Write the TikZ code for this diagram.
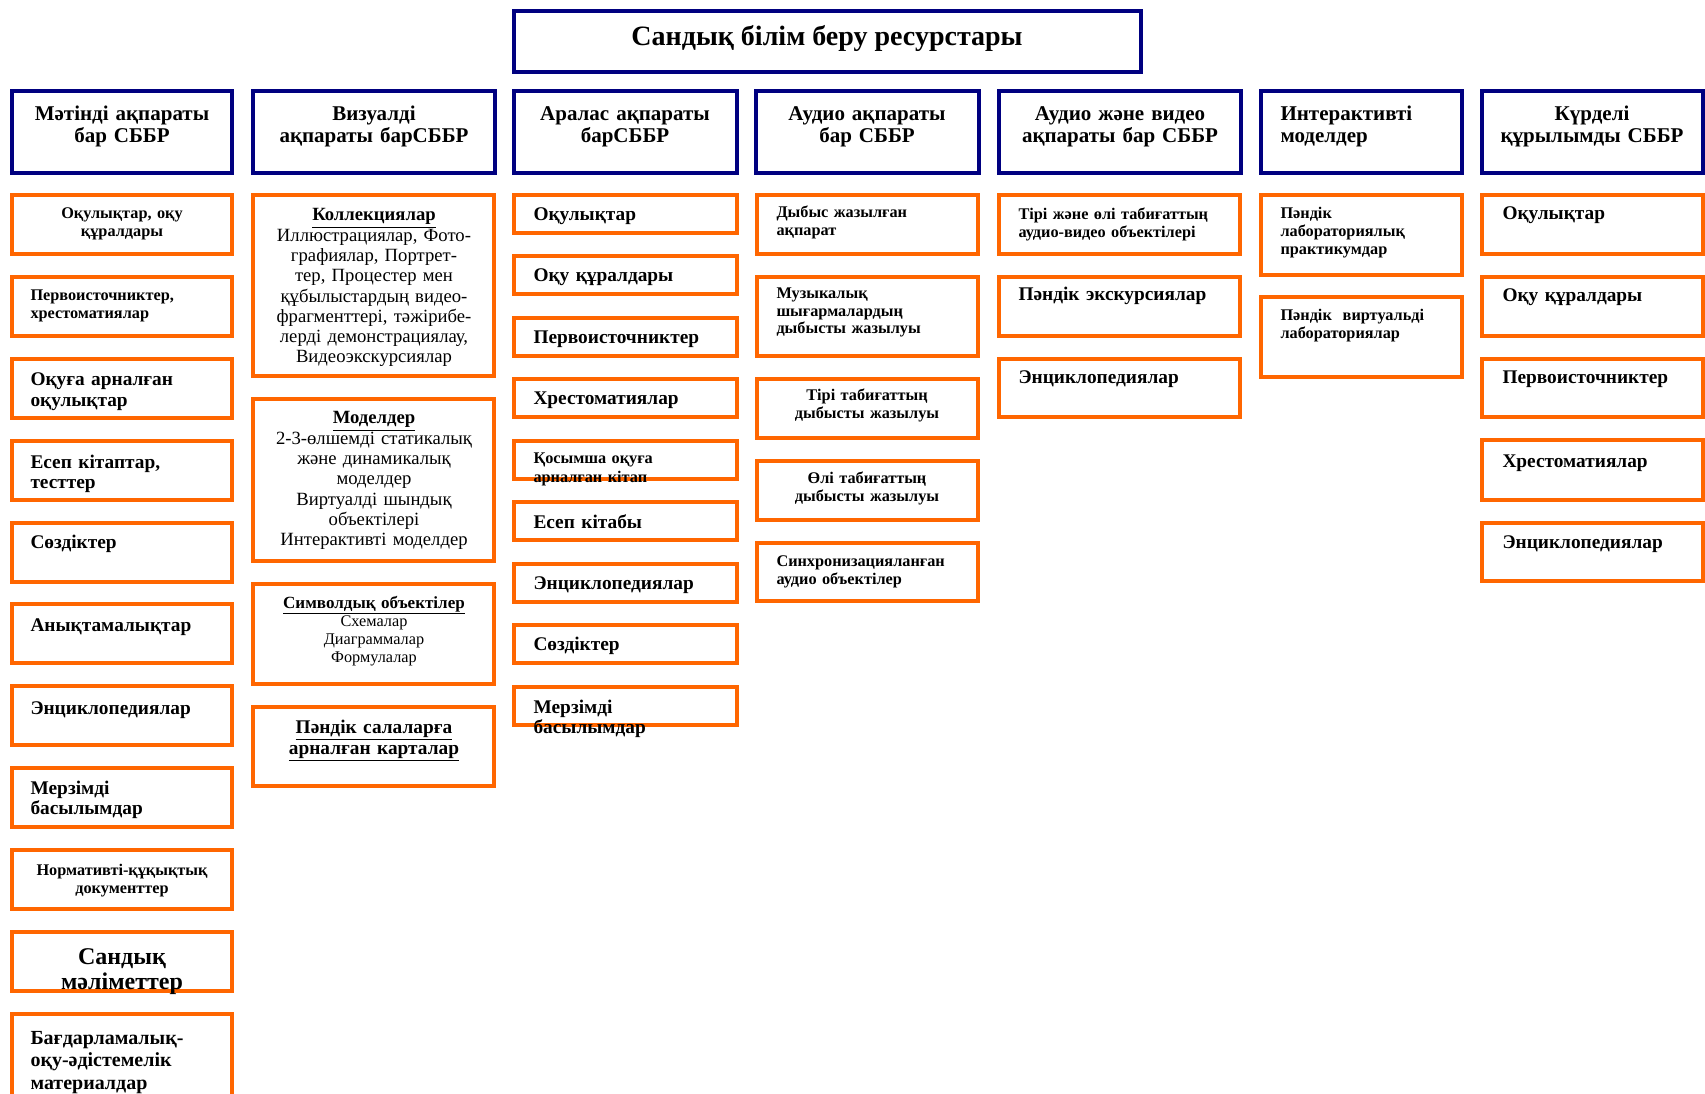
\documentclass[tikz,border=0pt]{standalone}
\usepackage{fontspec}
\setmainfont{Liberation Serif}

\definecolor{navyline}{RGB}{0,0,128}
\definecolor{orangeline}{RGB}{255,102,0}

\tikzset{every picture/.style={line width=0.75pt}}
\tikzset{
  headbox/.style={draw=navyline, line width=3.2pt},
  itembox/.style={draw=orangeline, line width=2.6pt},
  titletxt/.style={inner sep=0pt, font=\bfseries\fontsize{21}{25}\selectfont},
  headtxt/.style={inner sep=0pt, text width=210pt, font=\bfseries\fontsize{15.75}{16.5}\selectfont},
  bigtxt/.style={inner sep=0pt, text width=200pt, font=\bfseries\fontsize{14.5}{15.2}\selectfont},
  smalltxt/.style={inner sep=0pt, text width=200pt, font=\bfseries\fontsize{12.2}{13.5}\selectfont},
  plaintxt/.style={inner sep=0pt, text width=200pt, font=\fontsize{14}{15.2}\selectfont},
}

\begin{document}
\begin{tikzpicture}[x=0.75pt,y=0.75pt,yscale=-1,xscale=1]
	\path[use as bounding box] (0,0) rectangle (1705,1094);
	
	%Shape: Rectangle [title]
	\draw [headbox] (514,11) -- (1141,11) -- (1141,72) -- (514,72) -- cycle ;
	%Shape: Rectangle [headers]
	\draw [headbox] (12,91) -- (232,91) -- (232,173) -- (12,173) -- cycle ;
	\draw [headbox] (253,91) -- (495,91) -- (495,173) -- (253,173) -- cycle ;
	\draw [headbox] (514,91) -- (737,91) -- (737,173) -- (514,173) -- cycle ;
	\draw [headbox] (756,91) -- (979,91) -- (979,173) -- (756,173) -- cycle ;
	\draw [headbox] (999,91) -- (1241,91) -- (1241,173) -- (999,173) -- cycle ;
	\draw [headbox] (1261,91) -- (1462,91) -- (1462,173) -- (1261,173) -- cycle ;
	\draw [headbox] (1482,91) -- (1703,91) -- (1703,173) -- (1482,173) -- cycle ;
	
	%Shape: Rectangle [column 1]
	\draw [itembox] (12,195) -- (232,195) -- (232,254) -- (12,254) -- cycle ;
	\draw [itembox] (12,277) -- (232,277) -- (232,336) -- (12,336) -- cycle ;
	\draw [itembox] (12,359) -- (232,359) -- (232,418) -- (12,418) -- cycle ;
	\draw [itembox] (12,441) -- (232,441) -- (232,500) -- (12,500) -- cycle ;
	\draw [itembox] (12,523) -- (232,523) -- (232,582) -- (12,582) -- cycle ;
	\draw [itembox] (12,604) -- (232,604) -- (232,663) -- (12,663) -- cycle ;
	\draw [itembox] (12,686) -- (232,686) -- (232,745) -- (12,745) -- cycle ;
	\draw [itembox] (12,768) -- (232,768) -- (232,827) -- (12,827) -- cycle ;
	\draw [itembox] (12,850) -- (232,850) -- (232,909) -- (12,909) -- cycle ;
	\draw [itembox] (12,932) -- (232,932) -- (232,991) -- (12,991) -- cycle ;
	\draw [itembox] (12,1014) -- (232,1014) -- (232,1100) -- (12,1100) -- cycle ;
	
	%Shape: Rectangle [column 2]
	\draw [itembox] (253,195) -- (494,195) -- (494,376) -- (253,376) -- cycle ;
	\draw [itembox] (253,399) -- (494,399) -- (494,561) -- (253,561) -- cycle ;
	\draw [itembox] (253,584) -- (494,584) -- (494,684) -- (253,684) -- cycle ;
	\draw [itembox] (253,707) -- (494,707) -- (494,786) -- (253,786) -- cycle ;
	
	%Shape: Rectangle [column 3]
	\draw [itembox] (514,195) -- (737,195) -- (737,233) -- (514,233) -- cycle ;
	\draw [itembox] (514,256) -- (737,256) -- (737,294) -- (514,294) -- cycle ;
	\draw [itembox] (514,318) -- (737,318) -- (737,356) -- (514,356) -- cycle ;
	\draw [itembox] (514,379) -- (737,379) -- (737,417) -- (514,417) -- cycle ;
	\draw [itembox] (514,441) -- (737,441) -- (737,479) -- (514,479) -- cycle ;
	\draw [itembox] (514,502) -- (737,502) -- (737,540) -- (514,540) -- cycle ;
	\draw [itembox] (514,564) -- (737,564) -- (737,602) -- (514,602) -- cycle ;
	\draw [itembox] (514,625) -- (737,625) -- (737,663) -- (514,663) -- cycle ;
	\draw [itembox] (514,687) -- (737,687) -- (737,725) -- (514,725) -- cycle ;
	
	%Shape: Rectangle [column 4]
	\draw [itembox] (757,195) -- (978,195) -- (978,254) -- (757,254) -- cycle ;
	\draw [itembox] (757,277) -- (978,277) -- (978,356) -- (757,356) -- cycle ;
	\draw [itembox] (757,379) -- (978,379) -- (978,438) -- (757,438) -- cycle ;
	\draw [itembox] (757,461) -- (978,461) -- (978,520) -- (757,520) -- cycle ;
	\draw [itembox] (757,543) -- (978,543) -- (978,601) -- (757,601) -- cycle ;
	
	%Shape: Rectangle [column 5]
	\draw [itembox] (999,195) -- (1240,195) -- (1240,254) -- (999,254) -- cycle ;
	\draw [itembox] (999,277) -- (1240,277) -- (1240,336) -- (999,336) -- cycle ;
	\draw [itembox] (999,359) -- (1240,359) -- (1240,417) -- (999,417) -- cycle ;
	
	%Shape: Rectangle [column 6]
	\draw [itembox] (1261,195) -- (1462,195) -- (1462,275) -- (1261,275) -- cycle ;
	\draw [itembox] (1261,297) -- (1462,297) -- (1462,377) -- (1261,377) -- cycle ;
	
	%Shape: Rectangle [column 7]
	\draw [itembox] (1482,195) -- (1703,195) -- (1703,254) -- (1482,254) -- cycle ;
	\draw [itembox] (1482,277) -- (1703,277) -- (1703,336) -- (1482,336) -- cycle ;
	\draw [itembox] (1482,359) -- (1703,359) -- (1703,417) -- (1482,417) -- cycle ;
	\draw [itembox] (1482,440) -- (1703,440) -- (1703,500) -- (1482,500) -- cycle ;
	\draw [itembox] (1482,523) -- (1703,523) -- (1703,581) -- (1482,581) -- cycle ;
	
	% Text Node
	\draw (827,46) node [anchor=base][titletxt] (title) {Сандық білім беру ресурстары};
	% Text Node
	\draw (122,121) node [anchor=base][headtxt][align=center] (hText) {Мәтінді ақпараты\\бар СББР};
	% Text Node
	\draw (374,121) node [anchor=base][headtxt][align=center] (hVisual) {Визуалді\\ақпараты барСББР};
	% Text Node
	\draw (625,121) node [anchor=base][headtxt][align=center] (hMixed) {Аралас ақпараты\\барСББР};
	% Text Node
	\draw (867,121) node [anchor=base][headtxt][align=center] (hAudio) {Аудио ақпараты\\бар СББР};
	% Text Node
	\draw (1120,121) node [anchor=base][headtxt][align=center] (hAudioVideo) {Аудио және видео\\ақпараты бар СББР};
	% Text Node
	\draw (1280,121) node [anchor=base west][headtxt][align=left] (hInteract) {Интерактивті\\моделдер};
	% Text Node
	\draw (1592,121) node [anchor=base][headtxt][align=center] (hComplex) {Күрделі\\құрылымды СББР};
	
	% Text Node
	\draw (122,219) node [anchor=base][smalltxt][align=center] (textA) {Оқулықтар, оқу\\құралдары};
	% Text Node
	\draw (30,301) node [anchor=base west][smalltxt][align=left] (textB) {Первоисточниктер,\\хрестоматиялар};
	% Text Node
	\draw (30,386) node [anchor=base west][bigtxt][align=left] (textC) {Оқуға арналған\\оқулықтар};
	% Text Node
	\draw (30,468) node [anchor=base west][bigtxt][align=left] (textD) {Есеп кітаптар,\\тесттер};
	% Text Node
	\draw (30,548) node [anchor=base west][bigtxt][align=left] (textE) {Сөздіктер};
	% Text Node
	\draw (30,631) node [anchor=base west][bigtxt][align=left] (textF) {Анықтамалықтар};
	% Text Node
	\draw (30,714) node [anchor=base west][bigtxt][align=left] (textG) {Энциклопедиялар};
	% Text Node
	\draw (30,794) node [anchor=base west][bigtxt][align=left] (textH) {Мерзімді\\басылымдар};
	% Text Node
	\draw (122,875) node [anchor=base][smalltxt][align=center] (textI) {Нормативті-құқықтық\\документтер};
	% Text Node
	\draw (122,964) node [anchor=base][bigtxt][align=center][font=\bfseries\fontsize{18}{19.3}\selectfont] (textJ) {Сандық\\мәліметтер};
	% Text Node
	\draw (30,1044) node [anchor=base west][bigtxt][align=left][font=\bfseries\fontsize{15}{16.9}\selectfont] (textK) {Бағдарламалық-\\оқу-әдістемелік\\материалдар};
	
	% Text Node
	\draw (374,221) node [anchor=base][plaintxt][align=center] (visA) {{\bfseries\underline{Коллекциялар}}\\Иллюстрациялар, Фото-\\графиялар, Портрет-\\тер, Процестер мен\\құбылыстардың видео-\\фрагменттері, тәжірибе-\\лерді демонстрациялау,\\Видеоэкскурсиялар};
	% Text Node
	\draw (374,424) node [anchor=base][plaintxt][align=center] (visB) {{\bfseries\underline{Моделдер}}\\2-3-өлшемді статикалық\\және динамикалық\\моделдер\\Виртуалді шындық\\объектілері\\Интерактивті моделдер};
	% Text Node
	\draw (374,608) node [anchor=base][plaintxt][align=center][font=\fontsize{12.2}{13.5}\selectfont] (visC) {{\bfseries\fontsize{12.8}{13.5}\selectfont\underline{Символдық объектілер}}\\Схемалар\\Диаграммалар\\Формулалар};
	% Text Node
	\draw (374,733) node [anchor=base][bigtxt][align=center][font=\bfseries\fontsize{14.5}{15.75}\selectfont] (visD) {\underline{Пәндік салаларға}\\\underline{арналған карталар}};
	
	% Text Node
	\draw (533,221) node [anchor=base west][bigtxt][align=left] (mixA) {Оқулықтар};
	% Text Node
	\draw (533,282) node [anchor=base west][bigtxt][align=left] (mixB) {Оқу құралдары};
	% Text Node
	\draw (533,344) node [anchor=base west][bigtxt][align=left] (mixC) {Первоисточниктер};
	% Text Node
	\draw (533,405) node [anchor=base west][bigtxt][align=left] (mixD) {Хрестоматиялар};
	% Text Node
	\draw (533,464) node [anchor=base west][smalltxt][align=left] (mixE) {Қосымша оқуға\\арналған кітап};
	% Text Node
	\draw (533,528) node [anchor=base west][bigtxt][align=left] (mixF) {Есеп кітабы};
	% Text Node
	\draw (533,589) node [anchor=base west][bigtxt][align=left] (mixG) {Энциклопедиялар};
	% Text Node
	\draw (533,650) node [anchor=base west][bigtxt][align=left] (mixH) {Сөздіктер};
	% Text Node
	\draw (533,713) node [anchor=base west][bigtxt][align=left] (mixI) {Мерзімді\\басылымдар};
	
	% Text Node
	\draw (776,218) node [anchor=base west][smalltxt][align=left] (audA) {Дыбыс жазылған\\ақпарат};
	% Text Node
	\draw (776,299) node [anchor=base west][smalltxt][align=left][font=\bfseries\fontsize{12.2}{13.1}\selectfont] (audB) {Музыкалық\\шығармалардың\\дыбысты жазылуы};
	% Text Node
	\draw (867,401) node [anchor=base][smalltxt][align=center] (audC) {Тірі табиғаттың\\дыбысты жазылуы};
	% Text Node
	\draw (867,483) node [anchor=base][smalltxt][align=center] (audD) {Өлі табиғаттың\\дыбысты жазылуы};
	% Text Node
	\draw (776,566) node [anchor=base west][smalltxt][align=left] (audE) {Синхронизацияланған\\аудио объектілер};
	
	% Text Node
	\draw (1018,220) node [anchor=base west][smalltxt][align=left] (avA) {Тірі және өлі табиғаттың\\аудио-видео объектілері};
	% Text Node
	\draw (1018,301) node [anchor=base west][bigtxt][align=left] (avB) {Пәндік экскурсиялар};
	% Text Node
	\draw (1018,384) node [anchor=base west][bigtxt][align=left] (avC) {Энциклопедиялар};
	
	% Text Node
	\draw (1280,219) node [anchor=base west][smalltxt][align=left] (intA) {Пәндік\\лабораториялық\\практикумдар};
	% Text Node
	\draw (1280,321) node [anchor=base west][smalltxt][align=left] (intB) {Пәндік\ \ виртуальді\\лабораториялар};
	
	% Text Node
	\draw (1502,220) node [anchor=base west][bigtxt][align=left] (cmpA) {Оқулықтар};
	% Text Node
	\draw (1502,302) node [anchor=base west][bigtxt][align=left] (cmpB) {Оқу құралдары};
	% Text Node
	\draw (1502,384) node [anchor=base west][bigtxt][align=left] (cmpC) {Первоисточниктер};
	% Text Node
	\draw (1502,467) node [anchor=base west][bigtxt][align=left] (cmpD) {Хрестоматиялар};
	% Text Node
	\draw (1502,548) node [anchor=base west][bigtxt][align=left] (cmpE) {Энциклопедиялар};
	
\end{tikzpicture}
\end{document}
